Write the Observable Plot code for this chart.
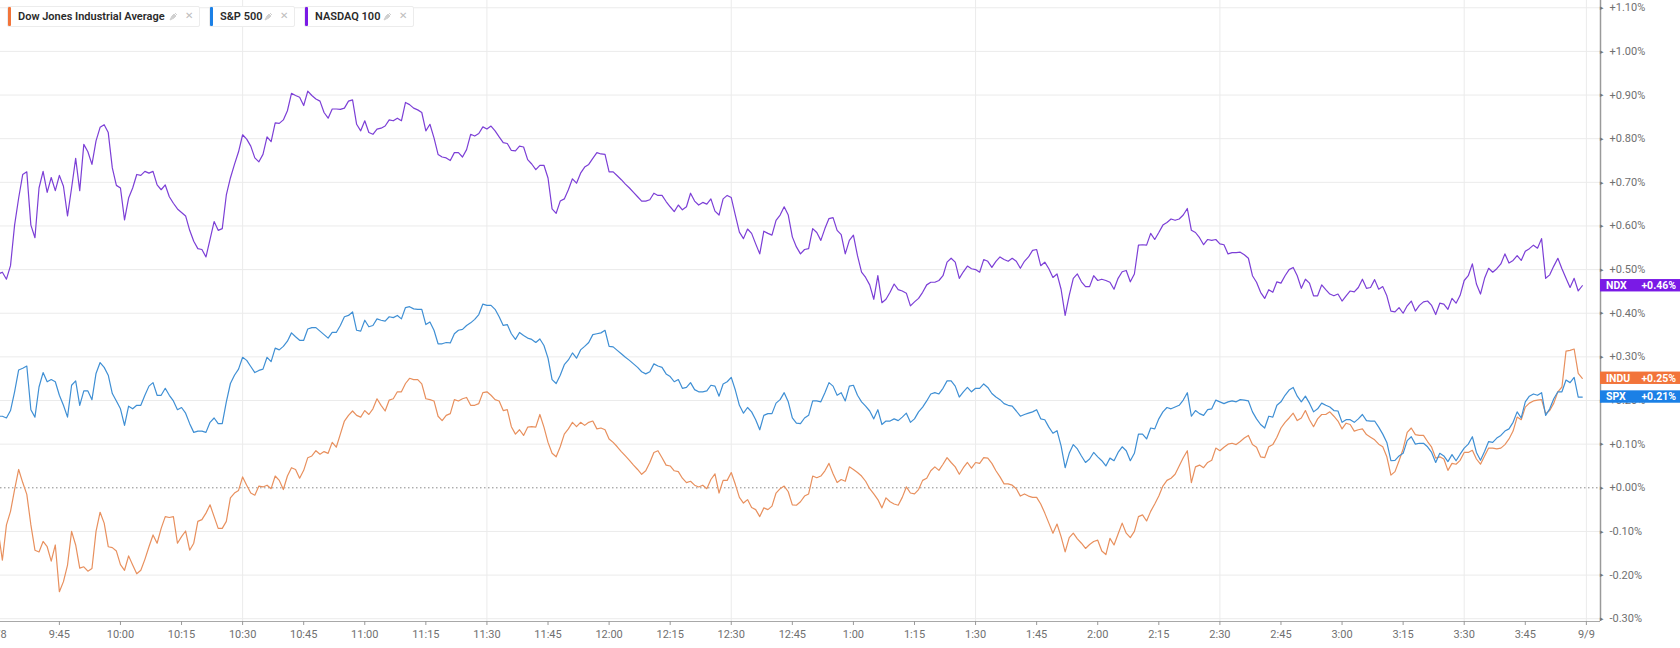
<!DOCTYPE html>
<html><head><meta charset="utf-8">
<script src="https://cdn.jsdelivr.net/npm/d3@7"></script>
<script src="https://cdn.jsdelivr.net/npm/@observablehq/plot@0.6"></script>
<style>
html,body{margin:0;padding:0;background:#fff;}
#wrap{position:relative;width:1680px;height:648px;overflow:hidden;font-family:Roboto,"Noto Sans",sans-serif;}
#legend{position:absolute;top:6px;left:7px;display:flex;gap:9px;}
.item{position:relative;display:flex;align-items:center;height:21px;background:#fff;border:1px solid #ececec;border-radius:2px;box-sizing:border-box;}
.bar{width:3px;height:19px;border-radius:1px;}
.lbl{margin-left:7px;font-size:11px;font-weight:600;color:#2a2a2a;white-space:nowrap;}
.ico{position:absolute;right:21px;top:5px;display:block;}
.cls{position:absolute;right:6px;top:4px;font-size:10px;color:#bdbdbd;line-height:10px;}
</style></head>
<body><div id="wrap"><div id="chart"></div><div id="legend"></div></div>
<script>
// minutes after 9:30 (one reading per minute), values in % change
const ndx = [
0.490,0.494,0.478,0.509,0.602,0.664,0.718,0.724,0.602,0.573,
0.687,0.725,0.677,0.711,0.681,0.716,0.691,0.623,0.687,0.755,
0.681,0.787,0.770,0.741,0.795,0.826,0.832,0.814,0.733,0.693,
0.687,0.614,0.664,0.687,0.718,0.716,0.725,0.721,0.725,0.694,
0.683,0.694,0.667,0.652,0.639,0.631,0.623,0.590,0.565,0.548,
0.546,0.529,0.569,0.610,0.590,0.594,0.671,0.710,0.741,0.770,
0.809,0.799,0.783,0.756,0.747,0.764,0.804,0.793,0.836,0.835,
0.843,0.864,0.904,0.899,0.895,0.876,0.909,0.899,0.891,0.886,
0.860,0.847,0.868,0.868,0.867,0.870,0.886,0.889,0.833,0.818,
0.841,0.814,0.810,0.822,0.824,0.829,0.843,0.841,0.847,0.841,
0.883,0.878,0.870,0.866,0.860,0.818,0.833,0.802,0.764,0.758,
0.756,0.750,0.768,0.768,0.758,0.775,0.810,0.806,0.812,0.827,
0.822,0.829,0.818,0.804,0.791,0.789,0.773,0.772,0.783,0.781,
0.752,0.742,0.729,0.739,0.739,0.710,0.639,0.629,0.657,0.662,
0.683,0.708,0.698,0.721,0.735,0.741,0.755,0.768,0.765,0.764,
0.724,0.724,0.715,0.706,0.696,0.687,0.677,0.667,0.657,0.657,
0.660,0.675,0.670,0.670,0.656,0.644,0.633,0.648,0.637,0.644,
0.675,0.657,0.648,0.654,0.650,0.662,0.634,0.625,0.662,0.670,
0.665,0.625,0.586,0.571,0.593,0.583,0.559,0.536,0.588,0.583,
0.579,0.613,0.625,0.644,0.625,0.575,0.552,0.536,0.546,0.548,
0.594,0.585,0.567,0.594,0.617,0.619,0.590,0.580,0.536,0.567,
0.579,0.532,0.494,0.482,0.465,0.432,0.486,0.424,0.432,0.448,
0.467,0.454,0.451,0.446,0.417,0.426,0.434,0.448,0.465,0.471,
0.471,0.475,0.486,0.517,0.526,0.517,0.480,0.495,0.508,0.502,
0.500,0.494,0.523,0.519,0.505,0.519,0.529,0.523,0.519,0.526,
0.519,0.503,0.519,0.529,0.544,0.546,0.509,0.517,0.502,0.482,
0.490,0.455,0.395,0.441,0.480,0.490,0.472,0.461,0.461,0.486,
0.475,0.478,0.475,0.471,0.455,0.480,0.495,0.498,0.472,0.490,
0.556,0.557,0.556,0.583,0.569,0.585,0.602,0.608,0.616,0.613,
0.616,0.625,0.640,0.590,0.585,0.573,0.557,0.569,0.567,0.569,
0.559,0.557,0.536,0.539,0.539,0.540,0.534,0.526,0.486,0.471,
0.448,0.434,0.454,0.448,0.472,0.469,0.486,0.500,0.505,0.486,
0.457,0.478,0.469,0.440,0.440,0.465,0.454,0.444,0.440,0.444,
0.428,0.440,0.451,0.449,0.459,0.478,0.457,0.459,0.477,0.455,
0.461,0.440,0.405,0.403,0.413,0.400,0.417,0.428,0.405,0.418,
0.426,0.428,0.418,0.397,0.423,0.421,0.409,0.434,0.423,0.441,
0.475,0.486,0.513,0.467,0.444,0.480,0.503,0.494,0.502,0.513,
0.536,0.515,0.521,0.532,0.521,0.542,0.548,0.556,0.549,0.571,
0.480,0.488,0.508,0.526,0.502,0.480,0.459,0.480,0.451,0.463];

const spx = [
0.164,0.164,0.160,0.177,0.220,0.270,0.274,0.279,0.179,0.162,
0.231,0.264,0.243,0.248,0.243,0.212,0.189,0.162,0.235,0.245,
0.189,0.222,0.222,0.202,0.262,0.287,0.276,0.258,0.216,0.199,
0.181,0.143,0.187,0.181,0.189,0.189,0.212,0.233,0.241,0.212,
0.212,0.228,0.212,0.199,0.179,0.184,0.171,0.147,0.127,0.130,
0.130,0.127,0.150,0.160,0.147,0.147,0.197,0.239,0.258,0.272,
0.299,0.292,0.278,0.264,0.269,0.272,0.299,0.289,0.320,0.316,
0.324,0.336,0.355,0.346,0.338,0.338,0.364,0.367,0.367,0.359,
0.351,0.343,0.356,0.356,0.372,0.392,0.395,0.403,0.361,0.359,
0.384,0.369,0.372,0.387,0.384,0.382,0.392,0.390,0.395,0.387,
0.413,0.415,0.410,0.409,0.409,0.374,0.380,0.361,0.330,0.330,
0.333,0.332,0.353,0.361,0.363,0.372,0.378,0.386,0.397,0.421,
0.418,0.418,0.409,0.392,0.372,0.374,0.353,0.340,0.356,0.349,
0.343,0.340,0.333,0.341,0.326,0.297,0.248,0.239,0.258,0.282,
0.293,0.309,0.297,0.316,0.324,0.333,0.351,0.353,0.355,0.361,
0.324,0.323,0.315,0.307,0.299,0.292,0.284,0.276,0.266,0.261,
0.266,0.284,0.279,0.276,0.261,0.255,0.243,0.248,0.228,0.230,
0.241,0.225,0.220,0.220,0.222,0.235,0.233,0.210,0.238,0.243,
0.253,0.224,0.189,0.171,0.184,0.174,0.156,0.133,0.166,0.170,
0.170,0.194,0.202,0.218,0.197,0.160,0.148,0.147,0.160,0.166,
0.199,0.199,0.197,0.218,0.241,0.233,0.212,0.218,0.199,0.233,
0.235,0.212,0.197,0.187,0.176,0.158,0.179,0.145,0.153,0.153,
0.158,0.154,0.162,0.171,0.150,0.158,0.174,0.185,0.199,0.215,
0.218,0.215,0.228,0.245,0.245,0.233,0.208,0.220,0.230,0.220,
0.228,0.228,0.238,0.230,0.216,0.208,0.202,0.193,0.189,0.187,
0.176,0.164,0.168,0.171,0.174,0.179,0.158,0.156,0.139,0.125,
0.131,0.096,0.046,0.079,0.099,0.089,0.073,0.058,0.066,0.081,
0.071,0.062,0.050,0.068,0.062,0.081,0.094,0.085,0.062,0.079,
0.123,0.123,0.112,0.137,0.135,0.158,0.174,0.184,0.181,0.185,
0.189,0.201,0.218,0.164,0.177,0.170,0.166,0.179,0.181,0.201,
0.197,0.193,0.197,0.199,0.197,0.202,0.201,0.199,0.174,0.158,
0.145,0.137,0.164,0.162,0.189,0.197,0.212,0.224,0.230,0.210,
0.197,0.210,0.194,0.174,0.181,0.194,0.189,0.185,0.177,0.176,
0.150,0.156,0.156,0.150,0.158,0.168,0.154,0.153,0.153,0.139,
0.123,0.104,0.062,0.063,0.073,0.079,0.108,0.117,0.100,0.102,
0.102,0.094,0.081,0.058,0.079,0.073,0.060,0.076,0.062,0.077,
0.091,0.100,0.117,0.081,0.063,0.083,0.106,0.104,0.114,0.120,
0.130,0.135,0.150,0.174,0.160,0.197,0.210,0.215,0.212,0.218,
0.166,0.181,0.204,0.220,0.220,0.247,0.241,0.253,0.208,0.208];

const indu = [
-0.100,-0.166,-0.085,-0.054,-0.004,0.042,0.012,-0.015,-0.085,-0.143,
-0.147,-0.123,-0.135,-0.168,-0.131,-0.238,-0.215,-0.177,-0.100,-0.131,
-0.184,-0.181,-0.191,-0.185,-0.100,-0.056,-0.081,-0.135,-0.137,-0.145,
-0.176,-0.189,-0.156,-0.177,-0.197,-0.189,-0.164,-0.135,-0.108,-0.127,
-0.093,-0.066,-0.068,-0.066,-0.127,-0.112,-0.099,-0.143,-0.127,-0.077,
-0.073,-0.058,-0.039,-0.066,-0.093,-0.093,-0.077,-0.023,-0.012,-0.006,
0.025,0.006,-0.012,-0.017,0.004,0.002,0.006,-0.002,0.027,0.017,
-0.004,0.027,0.046,0.042,0.022,0.040,0.069,0.073,0.085,0.077,
0.083,0.079,0.104,0.093,0.123,0.153,0.166,0.176,0.166,0.162,
0.177,0.168,0.181,0.204,0.189,0.176,0.201,0.204,0.220,0.220,
0.239,0.251,0.248,0.248,0.238,0.204,0.202,0.199,0.164,0.154,
0.166,0.170,0.202,0.199,0.204,0.207,0.189,0.189,0.193,0.218,
0.220,0.212,0.202,0.199,0.177,0.179,0.140,0.123,0.133,0.120,
0.139,0.140,0.139,0.168,0.139,0.104,0.079,0.071,0.094,0.123,
0.135,0.150,0.140,0.150,0.143,0.150,0.153,0.135,0.137,0.133,
0.112,0.104,0.094,0.083,0.073,0.063,0.052,0.042,0.031,0.039,
0.058,0.081,0.085,0.069,0.052,0.050,0.039,0.037,0.022,0.012,
0.015,0.006,0.002,0.006,-0.002,0.019,0.032,-0.012,0.017,0.017,
0.035,0.008,-0.022,-0.035,-0.027,-0.045,-0.050,-0.066,-0.046,-0.050,
-0.042,-0.012,-0.002,0.004,-0.009,-0.039,-0.040,-0.032,-0.019,-0.014,
0.027,0.023,0.027,0.039,0.056,0.032,0.012,0.019,0.015,0.048,
0.042,0.035,0.027,0.015,-0.002,-0.014,-0.027,-0.046,-0.023,-0.032,
-0.037,-0.040,-0.022,0.002,-0.012,-0.014,-0.004,0.017,0.022,0.039,
0.048,0.040,0.054,0.069,0.058,0.048,0.031,0.046,0.058,0.045,
0.058,0.056,0.069,0.068,0.056,0.039,0.025,0.009,0.009,0.006,
-0.002,-0.019,-0.014,-0.019,-0.022,-0.022,-0.037,-0.058,-0.081,-0.104,
-0.083,-0.112,-0.147,-0.114,-0.104,-0.117,-0.127,-0.139,-0.130,-0.123,
-0.120,-0.145,-0.153,-0.116,-0.131,-0.106,-0.081,-0.104,-0.114,-0.100,
-0.066,-0.062,-0.076,-0.054,-0.037,-0.019,0.004,0.017,0.022,0.031,
0.050,0.069,0.085,0.012,0.048,0.052,0.046,0.058,0.063,0.091,
0.085,0.093,0.100,0.102,0.099,0.106,0.114,0.120,0.099,0.093,
0.071,0.069,0.094,0.099,0.116,0.137,0.150,0.160,0.171,0.154,
0.160,0.177,0.156,0.140,0.158,0.168,0.168,0.174,0.164,0.153,
0.135,0.148,0.145,0.130,0.133,0.135,0.122,0.116,0.110,0.100,
0.094,0.071,0.029,0.037,0.062,0.089,0.127,0.137,0.122,0.120,
0.120,0.106,0.093,0.068,0.071,0.066,0.040,0.056,0.054,0.063,
0.081,0.081,0.086,0.066,0.054,0.073,0.091,0.091,0.089,0.091,
0.099,0.112,0.130,0.162,0.156,0.185,0.194,0.199,0.201,0.202,
0.170,0.177,0.194,0.220,0.231,0.313,0.315,0.318,0.262,0.251];

const seriesNames = ["Dow Jones Industrial Average", "S&P 500", "NASDAQ 100"];
const seriesCodes = ["INDU", "SPX", "NDX"];
const xTickMinutes = [0,15,30,45,60,75,90,105,120,135,150,165,180,195,210,225,240,255,270,285,300,315,330,345,360,375,390];
const xTickLabels = ["9/8","9:45","10:00","10:15","10:30","10:45","11:00","11:15","11:30","11:45","12:00","12:15","12:30","12:45","1:00","1:15","1:30","1:45","2:00","2:15","2:30","2:45","3:00","3:15","3:30","3:45","9/9"];
const xGridMinutes = [0,60,120,180,240,300,360,390];
const yTicks = [-0.3,-0.2,-0.1,0,0.1,0.2,0.3,0.4,0.5,0.6,0.7,0.8,0.9,1.0,1.1];

const lineColors = ["#e8905e", "#3f8fd4", "#7c3fd6"];
const tagColors = ["#f2743a", "#1b80e6", "#7a1ae6"];
const seriesData = [indu, spx, ndx];

const xMax = 393.47, yBottom = -0.3064;
const labelOf = new Map(xTickMinutes.map((m, i) => [m, xTickLabels[i]]));
const fmt = d => (d >= 0 ? "+" : "") + d.toFixed(2) + "%";

const lineMarks = seriesData.map((vals, k) =>
  Plot.lineY(vals, {x: (d, i) => i, y: d => d, stroke: lineColors[k], strokeWidth: 1.2, strokeLinejoin: "round"}));

const chart = Plot.plot({
  width: 1680, height: 648,
  marginLeft: 0, marginRight: 80, marginTop: 0, marginBottom: 27,
  x: {type: "linear", domain: [0, xMax], range: [-2.2, 1600]},
  y: {type: "linear", domain: [-0.3, 1.1], range: [618.22, 7.26]},
  style: {fontFamily: "Roboto, 'Noto Sans', sans-serif", fontSize: "11px", background: "transparent", overflow: "visible"},
  marks: [
    Plot.ruleY(yTicks.filter(d => d !== 0), {stroke: "#ebebeb", strokeWidth: 1}),
    Plot.ruleX(xGridMinutes, {stroke: "#ebebeb", strokeWidth: 1}),
    Plot.ruleY([0], {stroke: "#8a8a8a", strokeWidth: 1, strokeDasharray: "1.5,2.5"}),
    ...lineMarks,
    Plot.ruleX([xMax], {stroke: "#9a9a9a", strokeWidth: 1.5}),
    Plot.ruleY([yBottom], {stroke: "#a8a8a8", strokeWidth: 1.2}),
    Plot.axisX(xTickMinutes, {anchor: "bottom", tickSize: 4, tickPadding: 5, tickFormat: d => labelOf.get(d), color: "#707070", stroke: "#999", fontSize: 11}),
    Plot.axisY(yTicks, {anchor: "right", tickSize: 0, tickPadding: 9, tickFormat: fmt, color: "#707070", fontSize: 11, textAnchor: "start"}),
    Plot.text(yTicks, {y: d => d, frameAnchor: "right", text: () => "\u25B8", dx: 3, fontSize: 7, fill: "#777"})
  ]
});
document.getElementById("chart").appendChild(chart);

// end-of-day value tags positioned through the y scale
const ys = chart.scale("y");
const svg = d3.select(chart);
seriesData.forEach((vals, k) => {
  const last = vals[vals.length - 1];
  const cy = ys.apply(last);
  const g = svg.append("g").attr("font-family", "Roboto, 'Noto Sans', sans-serif").attr("font-size", 10.5).attr("font-weight", 700).attr("fill", "#fff");
  g.append("rect").attr("x", 1600).attr("y", cy - 6.2).attr("width", 80).attr("height", 12.4).attr("fill", tagColors[k]);
  g.append("text").attr("x", 1606).attr("y", cy).attr("dy", "0.36em").attr("text-anchor", "start").text(seriesCodes[k]);
  g.append("text").attr("x", 1676).attr("y", cy).attr("dy", "0.36em").attr("text-anchor", "end").text(fmt(last));
});

// legend
const legendWidths = [193, 86, 110];
const leg = document.getElementById("legend");
seriesNames.forEach((name, k) => {
  const it = document.createElement("div");
  it.className = "item";
  it.style.width = legendWidths[k] + "px";
  it.innerHTML = `<div class="bar" style="background:${tagColors[k]}"></div><span class="lbl"></span>` +
    `<svg class="ico" width="9" height="9" viewBox="0 0 9 9"><path d="M1 8 L3 4 L5 2 L7 4 L5 6 Z M6 1 L8 3" fill="#d0d0d0" stroke="#d0d0d0" stroke-width="1"/></svg>` +
    `<span class="cls">\u2715</span>`;
  it.querySelector(".lbl").textContent = name;
  leg.appendChild(it);
});
</script></body></html>
